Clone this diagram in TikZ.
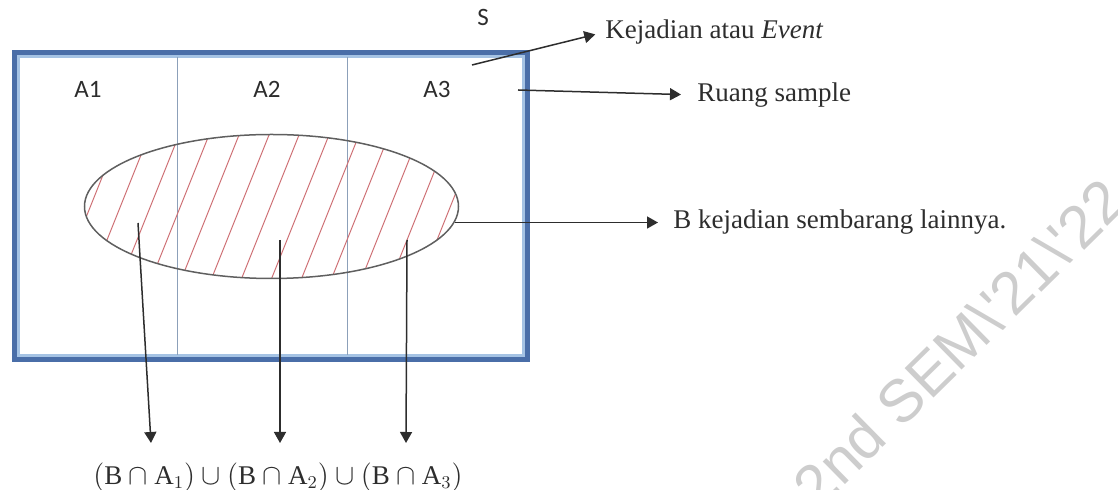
\documentclass[tikz,border=0pt]{standalone}
\usepackage{fontspec}
\setmainfont{Liberation Serif}
\newfontfamily\sansc{Carlito}
\newfontfamily\wmfont{Liberation Sans}
\usetikzlibrary{arrows.meta,shapes.geometric}
\definecolor{frameblue}{RGB}{74,110,168}
\definecolor{framelight}{RGB}{165,195,228}
\definecolor{hatchred}{RGB}{205,110,115}
\definecolor{inkgray}{RGB}{45,45,45}
\definecolor{divider}{RGB}{140,160,185}
\definecolor{wmgray}{RGB}{205,205,205}
\begin{document}
\begin{tikzpicture}[x=0.5pt,y=-0.5pt,
  conn/.style={draw=inkgray, line width=0.75pt, -{Triangle[length=5.5pt,width=6pt]}},
  lbl/.style={text=inkgray, font=\fontsize{13.5}{16}\selectfont, inner sep=0pt, anchor=west},
  region/.style={text=inkgray, font=\sansc\fontsize{12.5}{15}\selectfont, inner sep=0pt}]
\useasboundingbox (0,0) rectangle (1118,490);
% watermark
\node[rotate=44.5, text=wmgray, font=\wmfont\fontsize{30}{34}\selectfont, inner sep=0pt] (wm) at (959,343) {2nd SEM\textbackslash\textquotesingle 21\textbackslash\textquotesingle 22};
% sample space frame
\draw[framelight, line width=1.2pt] (18.5,56.5) rectangle (523.5,355.5);
\draw[frameblue, line width=2.5pt] (14.5,52.5) rectangle (527.5,359.5);
\draw[divider, line width=0.5pt] (177,57) -- (177,355);
\draw[divider, line width=0.5pt] (347,57) -- (347,355);
% region labels
\node[region] (S) at (483,17) {S};
\node[region] (A1) at (88,89) {A1};
\node[region] (A2) at (267,89) {A2};
\node[region] (A3) at (437,89) {A3};
% hatching inside B
\begin{scope}
  \clip (271.5,206.5) ellipse [x radius=93.5pt, y radius=36pt];
  \foreach \k in {-6,...,13}
    \draw[hatchred, line width=0.5pt] ({147+30*\k},290) -- ({211+30*\k},130);
\end{scope}
\node[ellipse, draw={rgb,255:red,95;green,95;blue,95}, line width=0.75pt, minimum width=187pt, minimum height=72pt, inner sep=0pt] (B) at (271.5,206.5) {};
% labels on the right
\node[lbl] (ev) at (605,32) {Kejadian atau \textit{Event}};
\node[lbl] (rs) at (697,95) {Ruang sample};
\node[lbl] (bl) at (673,222.4) {B kejadian sembarang lainnya.};
\coordinate (e0) at (472,65);
\coordinate (r0) at (518,90);
\draw[conn, shorten >=5pt] (e0) -- (ev.west);
\draw[conn, shorten >=8pt] (r0) -- (rs.west);
\draw[conn, shorten >=7.5pt] (B.-5) -- (B.-5 -| bl.west);
% intersections
\coordinate (p1) at (138,223);
\coordinate (p2) at (280,240);
\coordinate (p3) at (407,240);
\coordinate (t1) at (151,443);
\coordinate (t2) at (280,443);
\coordinate (t3) at (406,443);
\draw[conn] (p1) -- (t1);
\draw[conn] (p2) -- (t2);
\draw[conn] (p3) -- (t3);
\node[text=inkgray, font=\fontsize{13.5}{16}\selectfont, inner sep=0pt] (F) at (278,477)
  {$(\mathrm{B}\cap\mathrm{A}_1)\cup(\mathrm{B}\cap\mathrm{A}_2)\cup(\mathrm{B}\cap\mathrm{A}_3)$};
\end{tikzpicture}
\end{document}
